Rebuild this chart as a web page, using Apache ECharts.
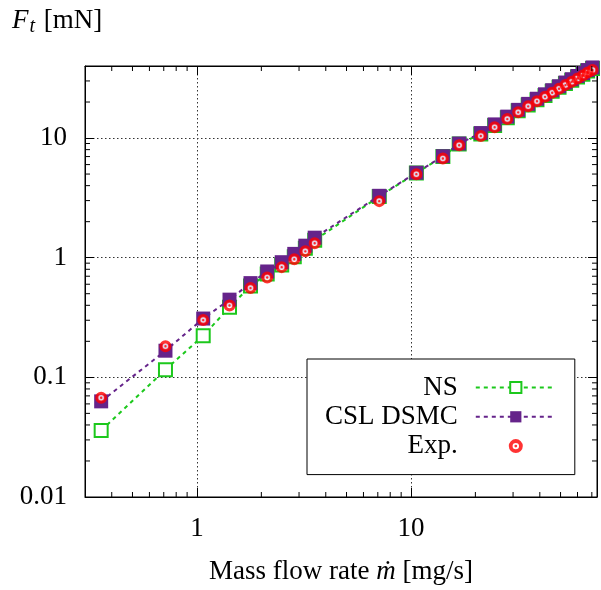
<!DOCTYPE html>
<html><head><meta charset="utf-8">
<script src="https://cdn.jsdelivr.net/npm/echarts@6/dist/echarts.min.js"></script>
<style>html,body{margin:0;padding:0;background:#fff}#c{width:601px;height:590px}</style>
</head><body><div id="c"></div>
<script>
// ---- data ----
const massFlow   = [0.357,0.713,1.07,1.42,1.78,2.13,2.49,2.85,3.21,3.55,7.11,10.6,14.1,16.8,21.2,24.6,28.2,31.7,35.3,38.8,42.3,45.7,49.2,52.7,56.4,60.0,63.6,66.9,70.5];
const thrustNS   = [0.036,0.116,0.223,0.385,0.58,0.73,0.87,1.02,1.2,1.40,3.25,5.1,7.0,8.9,10.8,12.7,14.8,16.9,18.9,20.9,22.7,24.6,26.6,28.5,30.4,32.3,34.2,36.3,38.1];
const thrustDSMC = [0.063,0.167,0.31,0.446,0.613,0.767,0.917,1.076,1.26,1.47,3.29,5.13,7.05,9.0,11.0,13.0,15.1,17.2,19.3,21.3,23.2,25.1,27.1,29.1,31.0,33.0,34.9,37.0,38.9];
const thrustExp  = [0.0675,0.182,0.301,0.398,0.557,0.684,0.834,0.97,1.13,1.32,2.97,4.99,6.75,8.71,10.4,12.3,14.4,16.4,18.4,20.3,22.1,23.9,25.8,27.7,29.5,31.5,33.3,35.3,37.0];
const seriesNames = ['NS','CSL DSMC','Exp.'];
const xTickValues = [1,10];
const xTickLabels = ['1','10'];
const yTickValues = [0.01,0.1,1,10];
const yTickLabels = ['0.01','0.1','1','10'];
const xMinorTicks = [0.4,0.5,0.6,0.7,0.8,0.9,2,3,4,5,6,7,8,9,20,30,40,50,60,70];
const yMinorTicks = [0.02,0.03,0.04,0.05,0.06,0.07,0.08,0.09,0.2,0.3,0.4,0.5,0.6,0.7,0.8,0.9,2,3,4,5,6,7,8,9,20,30];
const X_MIN = 0.3, X_MAX = 74, Y_MIN = 0.01, Y_MAX = 40;

// ---- styles ----
const FONT = '"Liberation Serif", "DejaVu Serif", serif';
const FS = 27;
const GREEN = '#1cc81c', PURPLE = '#65238a', RED = '#ff0000';
const MINOR_LEN = 5, MAJOR_LEN = 9;
const expSymbol = 'path://M0 5A5 5 0 1 1 10 5A5 5 0 1 1 0 5Z M2.7 5A2.3 2.3 0 1 0 7.3 5A2.3 2.3 0 1 0 2.7 5Z M4.0 5A1 1 0 1 1 6.0 5A1 1 0 1 1 4.0 5Z';

function pairs(xs, ys){ return xs.map((x,i)=>[x, ys[i]]); }
function fmt(values, labels){
  return function(v){
    for (let i=0;i<values.length;i++){ if (Math.abs(v/values[i]-1) < 1e-6) return labels[i]; }
    return '';
  };
}
function minorXItem(params, api){
  const v = api.value(0);
  const b = api.coord([v, Y_MIN]), t = api.coord([v, Y_MAX]);
  const st = {stroke:'#000', lineWidth:1};
  return {type:'group', children:[
    {type:'line', shape:{x1:b[0],y1:b[1],x2:b[0],y2:b[1]-MINOR_LEN}, style:st},
    {type:'line', shape:{x1:t[0],y1:t[1],x2:t[0],y2:t[1]+MINOR_LEN}, style:st}
  ]};
}
function minorYItem(params, api){
  const v = api.value(1);
  const l = api.coord([X_MIN, v]), r = api.coord([X_MAX, v]);
  const st = {stroke:'#000', lineWidth:1};
  return {type:'group', children:[
    {type:'line', shape:{x1:l[0],y1:l[1],x2:l[0]+MINOR_LEN,y2:l[1]}, style:st},
    {type:'line', shape:{x1:r[0],y1:r[1],x2:r[0]-MINOR_LEN,y2:r[1]}, style:st}
  ]};
}

const axisCommon = {
  type:'log', logBase:10,
  axisLine:{show:true, lineStyle:{color:'#000', width:1}},
  axisTick:{show:true, inside:true, length:MAJOR_LEN, lineStyle:{color:'#000', width:1}},
  minorTick:{show:false}
};
const gridLine = {show:true, lineStyle:{color:'#333', width:1, type:[1.5,2.5]}};

const chart = echarts.init(document.getElementById('c'), null, {renderer:'canvas'});
chart.setOption({
  animation:false,
  backgroundColor:'#fff',
  grid:{left:85, right:4, top:66, bottom:90, show:true, borderColor:'#000', borderWidth:1, backgroundColor:'transparent'},
  xAxis:[
    Object.assign({}, axisCommon, {min:X_MIN, max:X_MAX, position:'bottom',
      splitLine:gridLine,
      axisLabel:{formatter:fmt(xTickValues,xTickLabels), color:'#000', fontFamily:FONT, fontSize:FS, margin:18},
      name:'Mass flow rate {i|ṁ} [mg/s]', nameLocation:'middle', nameGap:61,
      nameTextStyle:{color:'#000', fontFamily:FONT, fontSize:FS, rich:{i:{fontStyle:'italic', fontFamily:FONT, fontSize:FS, color:'#000'}}}
    }),
    Object.assign({}, axisCommon, {min:X_MIN, max:X_MAX, position:'top', axisLabel:{show:false}, splitLine:{show:false}})
  ],
  yAxis:[
    Object.assign({}, axisCommon, {min:Y_MIN, max:Y_MAX, position:'left',
      splitLine:gridLine,
      axisLabel:{formatter:fmt(yTickValues,yTickLabels), color:'#000', fontFamily:FONT, fontSize:FS, margin:18}
    }),
    Object.assign({}, axisCommon, {min:Y_MIN, max:Y_MAX, position:'right', axisLabel:{show:false}, splitLine:{show:false}})
  ],
  graphic:[{
    type:'text', left:12, top:7,
    style:{
      text:'{i|F}{s|t} [mN]',
      font:FS + 'px ' + FONT, fill:'#000',
      rich:{
        i:{fontStyle:'italic', fontFamily:FONT, fontSize:FS, fill:'#000'},
        s:{fontStyle:'italic', fontFamily:FONT, fontSize:20, fill:'#000', padding:[13,2,0,1]}
      }
    }
  }],
  legend:{
    data:seriesNames,
    orient:'vertical', align:'right',
    left:307, top:359,
    padding:[15,18,15,18],
    itemGap:2.3, itemWidth:80, itemHeight:14,
    backgroundColor:'#fff', borderColor:'#000', borderWidth:1, borderRadius:0,
    textStyle:{color:'#000', fontFamily:FONT, fontSize:FS, lineHeight:27, padding:[0,13,0,0]},
    selectedMode:false
  },
  series:[
    {name:'NS', type:'line', data:pairs(massFlow,thrustNS),
     symbol:'rect', symbolSize:13, showAllSymbol:true,
     itemStyle:{color:'#fff', borderColor:GREEN, borderWidth:2},
     lineStyle:{color:GREEN, width:2, type:[4,4]}, z:3},
    {name:'CSL DSMC', type:'line', data:pairs(massFlow,thrustDSMC),
     symbol:'rect', symbolSize:14, showAllSymbol:true,
     itemStyle:{color:PURPLE, borderWidth:0},
     lineStyle:{color:PURPLE, width:2, type:[4,4]}, z:4},
    {name:'expFill', type:'scatter', data:pairs(massFlow,thrustExp),
     symbol:'circle', symbolSize:7, itemStyle:{color:'#fff'}, silent:true, z:5},
    {name:'Exp.', type:'scatter', data:pairs(massFlow,thrustExp),
     symbol:expSymbol, symbolSize:12,
     itemStyle:{color:RED}, z:6},
    {type:'custom', name:'xminor', data:xMinorTicks.map(v=>[v, Y_MIN]), renderItem:minorXItem, silent:true, z:7, clip:false},
    {type:'custom', name:'yminor', data:yMinorTicks.map(v=>[X_MIN, v]), renderItem:minorYItem, silent:true, z:7, clip:false}
  ]
});
</script></body></html>
